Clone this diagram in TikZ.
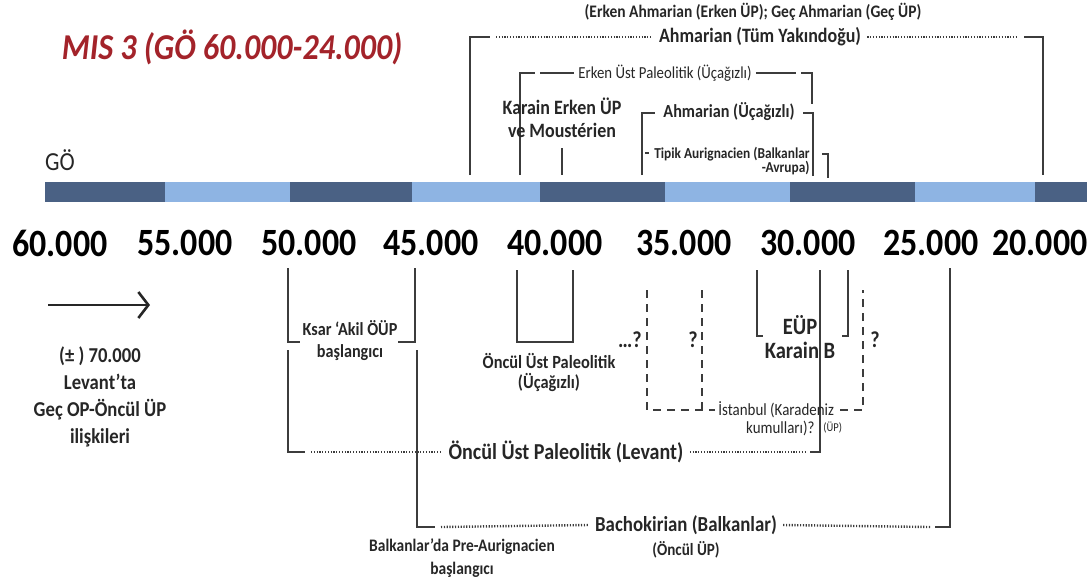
\documentclass[tikz,border=0pt]{standalone}
\usepackage{fontspec}
\setmainfont[FakeStretch=0.88]{Carlito}
\usepackage{tikz}
\usetikzlibrary{arrows.meta}
\usetikzlibrary{positioning}
\definecolor{bardark}{HTML}{4A6184}
\definecolor{barlight}{HTML}{8EB4E3}
\definecolor{misred}{HTML}{A3232A}
\definecolor{brkgray}{HTML}{3C3C3C}
\definecolor{txtgray}{HTML}{262626}
\tikzstyle{brk}=[draw=brkgray, line width=1.1pt]
\tikzstyle{dotl}=[draw=brkgray, line width=1.2pt, dash pattern=on 0.6pt off 0.8pt]
\tikzstyle{dashl}=[draw=brkgray, line width=1.1pt, dash pattern=on 4pt off 3pt]
\tikzstyle{lbl}=[inner sep=0pt, text=txtgray, font=\bfseries\fontsize{10.2}{11.5}\selectfont]
\tikzstyle{lblbig}=[inner sep=0pt, text=txtgray, font=\bfseries\fontsize{11.4}{13}\selectfont]
\tikzstyle{lblsmall}=[inner sep=0pt, text=txtgray, font=\bfseries\fontsize{9.2}{11}\selectfont]
\tikzstyle{lbltiny}=[inner sep=0pt, text=txtgray, font=\fontsize{8.4}{9}\selectfont]
\tikzstyle{yearlbl}=[inner sep=0pt, text=black, font=\bfseries\fontsize{19.3}{22}\selectfont]
\begin{document}
\begin{tikzpicture}[x=0.5pt,y=-0.5pt]
  \useasboundingbox (0,0) rectangle (1087,585);
  % title
  \node[inner sep=0pt, text=misred, font=\bfseries\itshape\fontsize{18.2}{20}\selectfont] (title) at (232,47) {MIS 3 (GÖ 60.000-24.000)};
  \node[inner sep=0pt, text=txtgray, font=\fontsize{13}{15}\selectfont] (go) at (60,160) {GÖ};
  % time bar
  \foreach \xa/\xb/\c in {45/165/bardark, 165/290/barlight, 290/412/bardark, 412/540/barlight, 540/665/bardark, 665/790/barlight, 790/915/bardark, 915/1035/barlight, 1035/1087/bardark}
    \fill[\c] (\xa,182) rectangle (\xb,202);
  \foreach \yr/\xx in {60/60, 55/185, 50/309, 45/431, 40/555, 35/684, 30/808, 25/931, 20/1040}
    \node[yearlbl] (yr\yr) at (\xx,243) {\yr.000};
  % upper brackets
  \node[lblsmall, font=\bfseries\fontsize{8.8}{10}\selectfont] (note) at (753,12) {(Erken Ahmarian (Erken ÜP); Geç Ahmarian (Geç ÜP)};
  \node[lbl] (ahmtum) at (760,37) {Ahmarian (Tüm Yakındoğu)};
  \draw[brk] (470,175) -- (470,37) -- (490,37);
  \draw[dotl] (496,37) -- ([xshift=-3pt]ahmtum.west);
  \draw[dotl] ([xshift=3pt]ahmtum.east) -- (1018,37);
  \draw[brk] (1024,37) -- (1043,37) -- (1043,175);
  \node[lbltiny] (eup) at (665,73) {Erken Üst Paleolitik (Üçağızlı)};
  \draw[brk] (520,175) -- (520,73) -- (535,73);
  \draw[brk] (540,73) -- ([xshift=-2pt]eup.west);
  \draw[brk] ([xshift=2pt]eup.east) -- (796,73);
  \draw[brk] (801,73) -- (812,73) -- (812,104);
  \node[lbl, font=\bfseries\fontsize{10.2}{11.5}\selectfont, align=center] (karain) at (562,118) {Karain Erken ÜP\\ve Moustérien};
  \draw[brk] (562,148) -- (562,175);
  \node[lblsmall] (ahmuc) at (729,112) {Ahmarian (Üçağızlı)};
  \draw[brk] (642,175) -- (642,113) -- (655,113);
  \draw[brk] (803,113) -- (813,113) -- (813,176);
  \node[lblsmall, font=\bfseries\fontsize{7.6}{7}\selectfont, align=right, anchor=north east] (tipik) at (810,147) {Tipik Aurignacien (Balkanlar\\-Avrupa)};
  \draw[brk] (645,153) -- ([xshift=-2.5pt]tipik.north west |- 0,153);
  \draw[brk] (822,154) -- (828,154) -- (828,178);
  % lower brackets
  \node[lblsmall, align=center] (ksar) at (350,341) {Ksar ‘Akil ÖÜP\\başlangıcı};
  \draw[brk] (288,268) -- (288,342) -- (300,342);
  \draw[brk] (398,342) -- (415,342) -- (415,268);
  \draw[brk] (517,270) -- (517,342) -- (573,342) -- (573,270);
  \node[lblsmall, font=\bfseries\fontsize{9.3}{10}\selectfont, align=center] (oncuc) at (549,372) {Öncül Üst Paleolitik\\(Üçağızlı)};
  \node[lblbig] (levant) at (566,452) {Öncül Üst Paleolitik (Levant)};
  \draw[brk] (288,350) -- (288,452) -- (305,452);
  \draw[dotl] (311,452) -- ([xshift=-3pt]levant.west);
  \draw[dotl] ([xshift=3pt]levant.east) -- (805,452);
  \draw[brk] (810,452) -- (820,452) -- (820,270);
  \node[lblbig, font=\bfseries\fontsize{10.7}{12}\selectfont] (bacho) at (686,525) {Bachokirian (Balkanlar)};
  \draw[brk] (417,350) -- (417,527) -- (435,527);
  \draw[dotl] (441,527) -- ([xshift=-3pt]bacho.west);
  \draw[dotl] ([xshift=3pt]bacho.east) -- (930,527);
  \draw[brk] (935,527) -- (950,527) -- (950,268);
  \node[lblsmall, font=\bfseries\fontsize{8.6}{10}\selectfont] (oncup) at (686,550) {(Öncül ÜP)};
  \node[lblsmall, font=\bfseries\fontsize{8.8}{11.5}\selectfont, align=center] (balk) at (462,558) {Balkanlar’da Pre-Aurignacien\\başlangıcı};
  % Istanbul
  \draw[dashl] (647,290) -- (647,410) -- (715,410);
  \draw[dashl] (702,290) -- (702,410);
  \draw[dashl] (840,410) -- (863,410) -- (863,290);
  \node[lbltiny, font=\fontsize{8.5}{9}\selectfont, anchor=west] (ist) at (718,410) {İstanbul (Karadeniz};
  \node[lbltiny, font=\fontsize{8.5}{9}\selectfont, anchor=east] (kum) at (815,428) {kumulları)?};
  \node[lbltiny, font=\fontsize{6}{7}\selectfont, anchor=west] (kumup) at (823,428) {(ÜP)};
  \node[lblbig] (q1) at (630,340) {…?};
  \node[lblbig] (q2) at (693,340) {?};
  \node[lblbig] (q3) at (875,340) {?};
  % Karain B
  \draw[brk] (757,270) -- (757,336) -- (763,336);
  \draw[brk] (842,336) -- (848,336) -- (848,270);
  \node[lblbig, font=\bfseries\fontsize{11.7}{13}\selectfont] (eupk) at (800,325) {EÜP};
  \node[lblbig, font=\bfseries\fontsize{11.7}{13}\selectfont] (karb) at (800,350) {Karain B};
  % left note
  \coordinate (arrS) at (48,305);
  \coordinate (arrE) at (150,305);
  \draw[draw=txtgray, line width=1.3pt, -{Straight Barb[length=5pt,width=13pt]}] (arrS) -- (arrE);
  \node[lblbig, font=\bfseries\fontsize{10.6}{13.6}\selectfont, align=center] (levnote) at (100,397) {(± ) 70.000\\Levant’ta\\Geç OP-Öncül ÜP\\ilişkileri};
\end{tikzpicture}
\end{document}
